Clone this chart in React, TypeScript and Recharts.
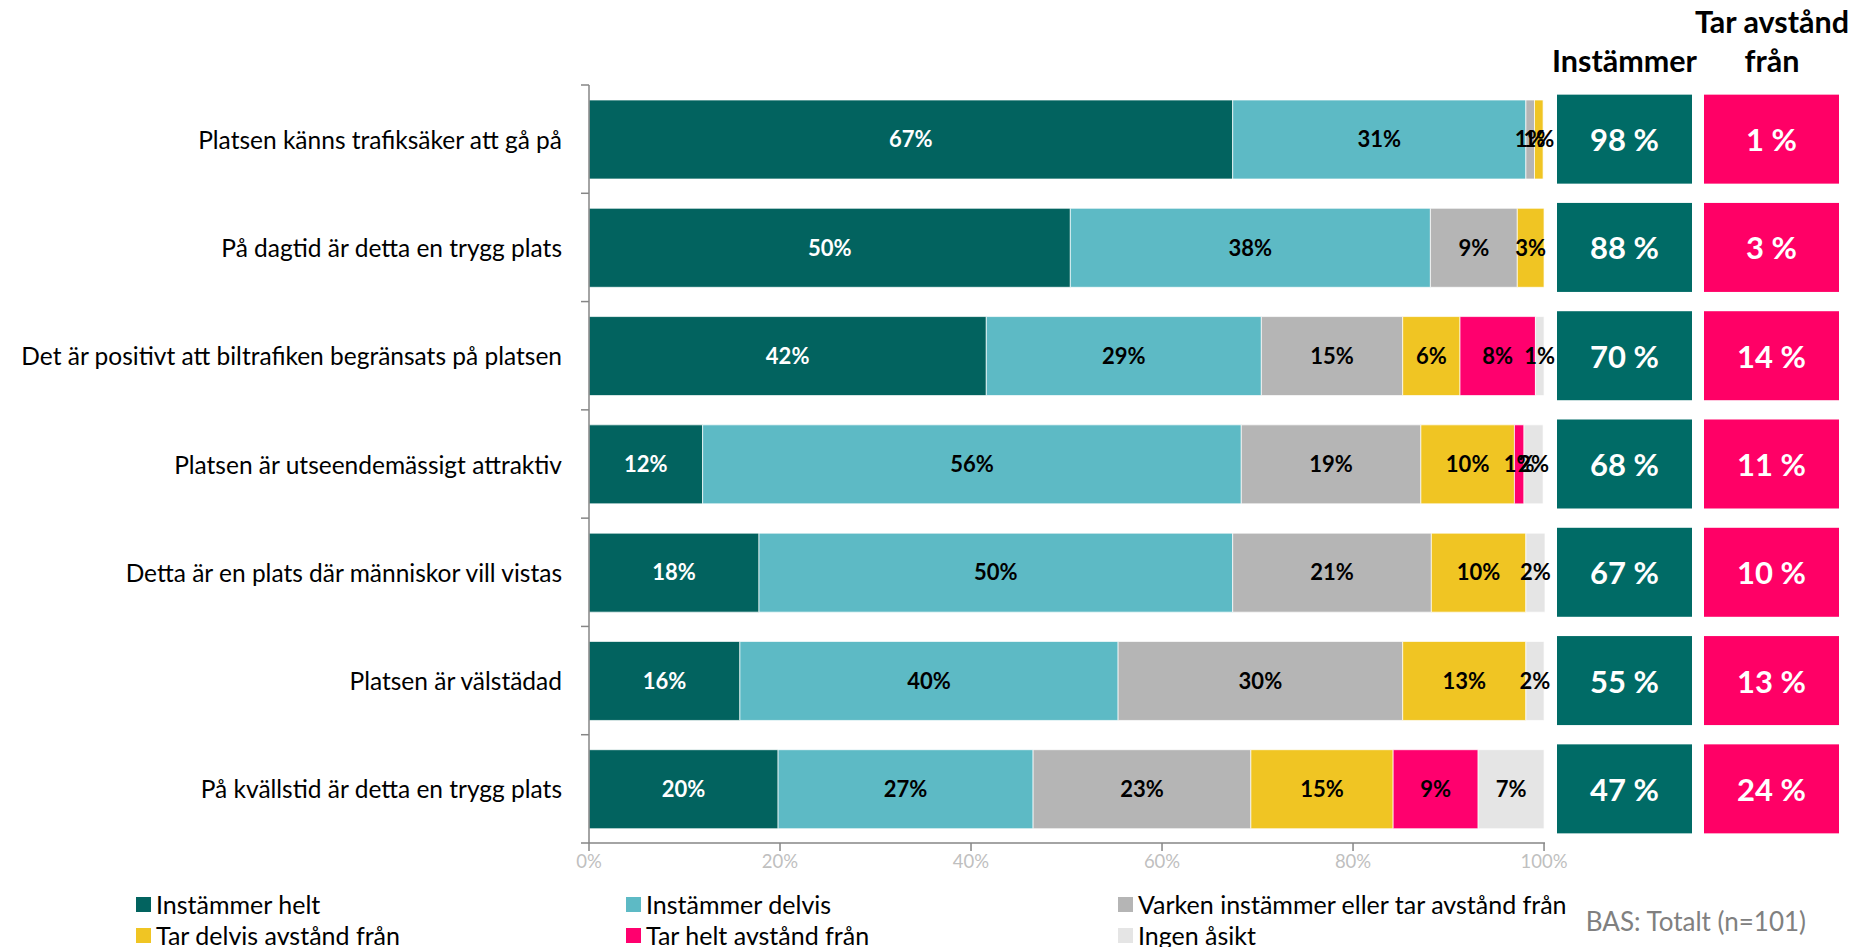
import * as React from "react";
import { BarChart, Bar, XAxis, YAxis, LabelList } from "recharts";

const CATEGORIES = [
  "Platsen känns trafiksäker att gå på",
  "På dagtid är detta en trygg plats",
  "Det är positivt att biltrafiken begränsats på platsen",
  "Platsen är utseendemässigt attraktiv",
  "Detta är en plats där människor vill vistas",
  "Platsen är välstädad",
  "På kvällstid är detta en trygg plats",
];

const SERIES_NAMES = [
  "Instämmer helt",
  "Instämmer delvis",
  "Varken instämmer eller tar avstånd från",
  "Tar delvis avstånd från",
  "Tar helt avstånd från",
  "Ingen åsikt",
];

const INSTAMMER_HELT = [67.4, 50.4, 41.6, 11.9, 17.8, 15.8, 19.8];
const INSTAMMER_DELVIS = [30.7, 37.7, 28.8, 56.4, 49.6, 39.6, 26.7];
const VARKEN = [0.9, 9.1, 14.8, 18.8, 20.8, 29.8, 22.8];
const TAR_DELVIS = [0.9, 2.8, 6.0, 9.8, 9.9, 12.9, 14.9];
const TAR_HELT = [0, 0, 7.9, 1.0, null, null, 8.9];
const INGEN_ASIKT = [0, 0, 0.9, 2.0, 2.0, 1.9, 6.9];

const INSTAMMER_TOTAL = [98, 88, 70, 68, 67, 55, 47];
const TAR_AVSTAND_TOTAL = [1, 3, 14, 11, 10, 13, 24];

const X_TICKS = [0, 20, 40, 60, 80, 100];

const COLORS = ["#02635F", "#5DBAC5", "#B5B5B5", "#F0C523", "#FF006E", "#E5E5E5"];
const LABEL_COLORS = ["#ffffff", "#000000", "#000000", "#000000", "#000000", "#000000"];
const BOX_TEAL = "#006B66";
const BOX_PINK = "#FF0066";

const FONT = "Lato, 'Open Sans', sans-serif";

const W = 1852;
const H = 947;
const PLOT_TOP = 85;
const PLOT_BOTTOM = 843;
const LEFT_W = 589;
const RIGHT_W = 307;
const X_AXIS_H = 30;
const BAND = (PLOT_BOTTOM - PLOT_TOP) / CATEGORIES.length;

const KEYS = ["s0", "s1", "s2", "s3", "s4", "s5"];
const SERIES_VALUES = [INSTAMMER_HELT, INSTAMMER_DELVIS, VARKEN, TAR_DELVIS, TAR_HELT, INGEN_ASIKT];

const data = CATEGORIES.map((name, i) => {
  const row: Record<string, any> = { name, agree: INSTAMMER_TOTAL[i], disagree: TAR_AVSTAND_TOTAL[i] };
  KEYS.forEach((k, s) => {
    row[k] = SERIES_VALUES[s][i];
  });
  return row;
});

function LeftTick(props: any) {
  const { x, y, payload, index } = props;
  const axisX = x + 8 + 19;
  return (
    <g>
      <text
        x={x}
        y={y}
        textAnchor="end"
        dominantBaseline="central"
        fontFamily={FONT}
        fontSize={24.5}
        fill="#000"
      >
        {payload.value}
      </text>
      <line x1={axisX - 8} x2={axisX} y1={y - BAND / 2} y2={y - BAND / 2} stroke="#868686" strokeWidth={1.5} />
      {index === CATEGORIES.length - 1 && (
        <line x1={axisX - 8} x2={axisX} y1={y + BAND / 2} y2={y + BAND / 2} stroke="#868686" strokeWidth={1.5} />
      )}
    </g>
  );
}

function RightTick(props: any) {
  const { x, y, index } = props;
  const bw = 135;
  const bh = 89;
  const x1 = x + 12;
  const x2 = x1 + bw + 12;
  return (
    <g>
      <rect x={x1} y={y - bh / 2} width={bw} height={bh} fill={BOX_TEAL} />
      <text
        x={x1 + bw / 2}
        y={y}
        textAnchor="middle"
        dominantBaseline="central"
        fontFamily={FONT}
        fontWeight={700}
        fontSize={31}
        fill="#fff"
      >
        {INSTAMMER_TOTAL[index]} %
      </text>
      <rect x={x2} y={y - bh / 2} width={bw} height={bh} fill={BOX_PINK} />
      <text
        x={x2 + bw / 2}
        y={y}
        textAnchor="middle"
        dominantBaseline="central"
        fontFamily={FONT}
        fontWeight={700}
        fontSize={31}
        fill="#fff"
      >
        {TAR_AVSTAND_TOTAL[index]} %
      </text>
    </g>
  );
}

const fmt = (v: any) => (v === null || v === undefined ? "" : `${Math.round(v)}%`);

export default function App() {
  return (
    <div style={{ position: "absolute", left: 0, top: 0, width: W, height: H, background: "#fff", fontFamily: FONT }}>
      <BarChart
        width={W}
        height={H}
        data={data}
        layout="vertical"
        margin={{ top: PLOT_TOP, right: 0, left: 0, bottom: H - PLOT_BOTTOM - X_AXIS_H }}
      >
        <XAxis
          type="number"
          domain={[0, 100]}
          ticks={X_TICKS}
          tickFormatter={(v) => `${v}%`}
          height={X_AXIS_H}
          tickSize={8}
          tickMargin={4}
          stroke="#868686"
          strokeWidth={1.5}
          tick={{ fontSize: 18.5, fill: "#BFBFBF", fontFamily: FONT }}
          interval={0}
        />
        <YAxis
          yAxisId="left"
          type="category"
          dataKey="name"
          width={LEFT_W}
          tickLine={false}
          tickSize={8}
          tickMargin={19}
          stroke="#868686"
          strokeWidth={1.5}
          tick={<LeftTick />}
          interval={0}
        />
        <YAxis
          yAxisId="right"
          orientation="right"
          type="category"
          dataKey="name"
          width={RIGHT_W}
          axisLine={false}
          tickLine={false}
          tickSize={0}
          tickMargin={0}
          tick={<RightTick />}
          interval={0}
        />
        {KEYS.map((k, s) => (
          <Bar
            key={k}
            yAxisId="left"
            dataKey={k}
            name={SERIES_NAMES[s]}
            stackId="a"
            fill={COLORS[s]}
            stroke="#ffffff"
            strokeOpacity={0.7}
            strokeWidth={1}
            barSize={79}
            isAnimationActive={false}
          >
            <LabelList
              dataKey={k}
              position="center"
              formatter={fmt}
              fill={LABEL_COLORS[s]}
              fontFamily={FONT}
              fontWeight={700}
              fontSize={22}
            />
          </Bar>
        ))}
      </BarChart>

      <div style={{ position: "absolute", left: 1547, width: 155, top: 40, textAlign: "center", fontSize: 30.5, fontWeight: 700, lineHeight: "40px", color: "#000" }}>
        Instämmer
      </div>
      <div style={{ position: "absolute", left: 1682, width: 180, top: 2, textAlign: "center", fontSize: 30.5, fontWeight: 700, lineHeight: "39px", color: "#000", whiteSpace: "nowrap" }}>
        Tar avstånd
        <br />
        från
      </div>

      {SERIES_NAMES.map((n, i) => {
        const col = i % 3;
        const row = Math.floor(i / 3);
        const left = [136, 626, 1118][col];
        const top = [904, 935][row];
        return (
          <div
            key={n}
            style={{ position: "absolute", left, top: top - 16, height: 32, display: "flex", alignItems: "center", fontSize: 25, color: "#000", whiteSpace: "nowrap" }}
          >
            <div style={{ width: 15, height: 15, background: COLORS[i], marginRight: 5 }} />
            {n}
          </div>
        );
      })}
      <div style={{ position: "absolute", right: W - 1806, top: 905, fontSize: 26, color: "#808080", whiteSpace: "nowrap" }}>
        BAS: Totalt (n=101)
      </div>
    </div>
  );
}
